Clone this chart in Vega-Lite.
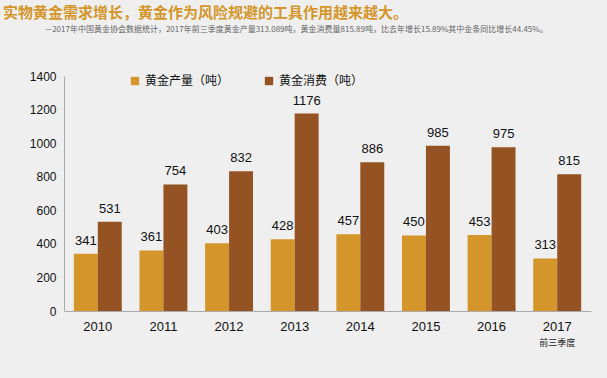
{
  "$schema": "https://vega.github.io/schema/vega-lite/v6.json",
  "width": 527,
  "height": 235,
  "autosize": "none",
  "padding": {"left": 64, "top": 76, "right": 16, "bottom": 67},
  "background": "#efefef",
  "title": {
    "text": "实物黄金需求增长，黄金作为风险规避的工具作用越来越大。",
    "subtitle": "\u2800\u2800\u2800\u2800\u2800\u2800\u2800—2017年中国黄金协会数据统计，2017年前三季度黄金产量313.089吨，黄金消费量815.89吨，比去年增长15.89%其中金条同比增长44.45%。",
    "anchor": "start",
    "frame": "group",
    "dx": -61,
    "offset": 36,
    "font": "Noto Sans CJK SC",
    "fontSize": 15,
    "fontWeight": "bold",
    "color": "#D4962A",
    "subtitleFont": "Noto Sans CJK SC",
    "subtitleFontSize": 8,
    "subtitleColor": "#666666",
    "subtitlePadding": 5
  },
  "data": {
    "values": [
      {"year": "2010", "series": "黄金产量（吨）", "value": 341},
      {"year": "2010", "series": "黄金消费（吨）", "value": 531},
      {"year": "2011", "series": "黄金产量（吨）", "value": 361},
      {"year": "2011", "series": "黄金消费（吨）", "value": 754},
      {"year": "2012", "series": "黄金产量（吨）", "value": 403},
      {"year": "2012", "series": "黄金消费（吨）", "value": 832},
      {"year": "2013", "series": "黄金产量（吨）", "value": 428},
      {"year": "2013", "series": "黄金消费（吨）", "value": 1176},
      {"year": "2014", "series": "黄金产量（吨）", "value": 457},
      {"year": "2014", "series": "黄金消费（吨）", "value": 886},
      {"year": "2015", "series": "黄金产量（吨）", "value": 450},
      {"year": "2015", "series": "黄金消费（吨）", "value": 985},
      {"year": "2016", "series": "黄金产量（吨）", "value": 453},
      {"year": "2016", "series": "黄金消费（吨）", "value": 975},
      {"year": "2017", "series": "黄金产量（吨）", "value": 313},
      {"year": "2017", "series": "黄金消费（吨）", "value": 815}
    ]
  },
  "encoding": {
    "x": {"field": "year", "type": "nominal", "sort": null, "scale": {"paddingInner": 0.27, "paddingOuter": 0.15}},
    "xOffset": {"field": "series", "type": "nominal", "sort": null},
    "y": {"field": "value", "type": "quantitative", "title": null, "scale": {"domain": [0, 1400]},
      "axis": {"values": [0,200,400,600,800,1000,1200,1400], "format": "d", "labelOverlap": false, "grid": false, "ticks": false, "domainColor": "#aaaaaa", "labelFont": "Liberation Sans", "labelFontSize": 12, "labelColor": "#111111", "labelPadding": 8}}
  },
  "layer": [
    {
      "mark": {"type": "bar"},
      "encoding": {
        "x": {"field": "year", "type": "nominal", "sort": null, "title": null,
          "axis": {"labelAngle": 0, "domainColor": "#aaaaaa", "ticks": false, "labelFont": "Liberation Sans", "labelFontSize": 13, "labelColor": "#111111", "labelPadding": 9}},
        "color": {"field": "series", "type": "nominal", "sort": null,
          "scale": {"range": ["#D4962A", "#955223"]},
          "legend": {"title": null, "orient": "none", "direction": "horizontal", "legendX": 65, "legendY": -1, "symbolType": "square", "symbolSize": 70, "symbolStrokeWidth": 0, "labelFont": "Noto Sans CJK SC", "labelFontSize": 12, "labelColor": "#111111", "columnPadding": 33}}
      }
    },
    {
      "mark": {"type": "text", "baseline": "bottom", "dy": -6, "font": "Liberation Sans", "fontSize": 13, "color": "#111111"},
      "encoding": {
        "x": {"field": "year", "type": "nominal", "sort": null, "title": null,
          "axis": {"orient": "bottom", "domain": false, "ticks": false, "labelFont": "Noto Sans CJK SC", "labelFontSize": 9, "labelColor": "#222222", "labelPadding": 27, "labelAngle": 0,
            "labelExpr": "datum.value == '2017' ? '前三季度' : ''"}},
        "text": {"field": "value", "type": "quantitative"}
      }
    }
  ],
  "resolve": {"axis": {"x": "independent"}},
  "config": {"view": {"stroke": null}}
}
